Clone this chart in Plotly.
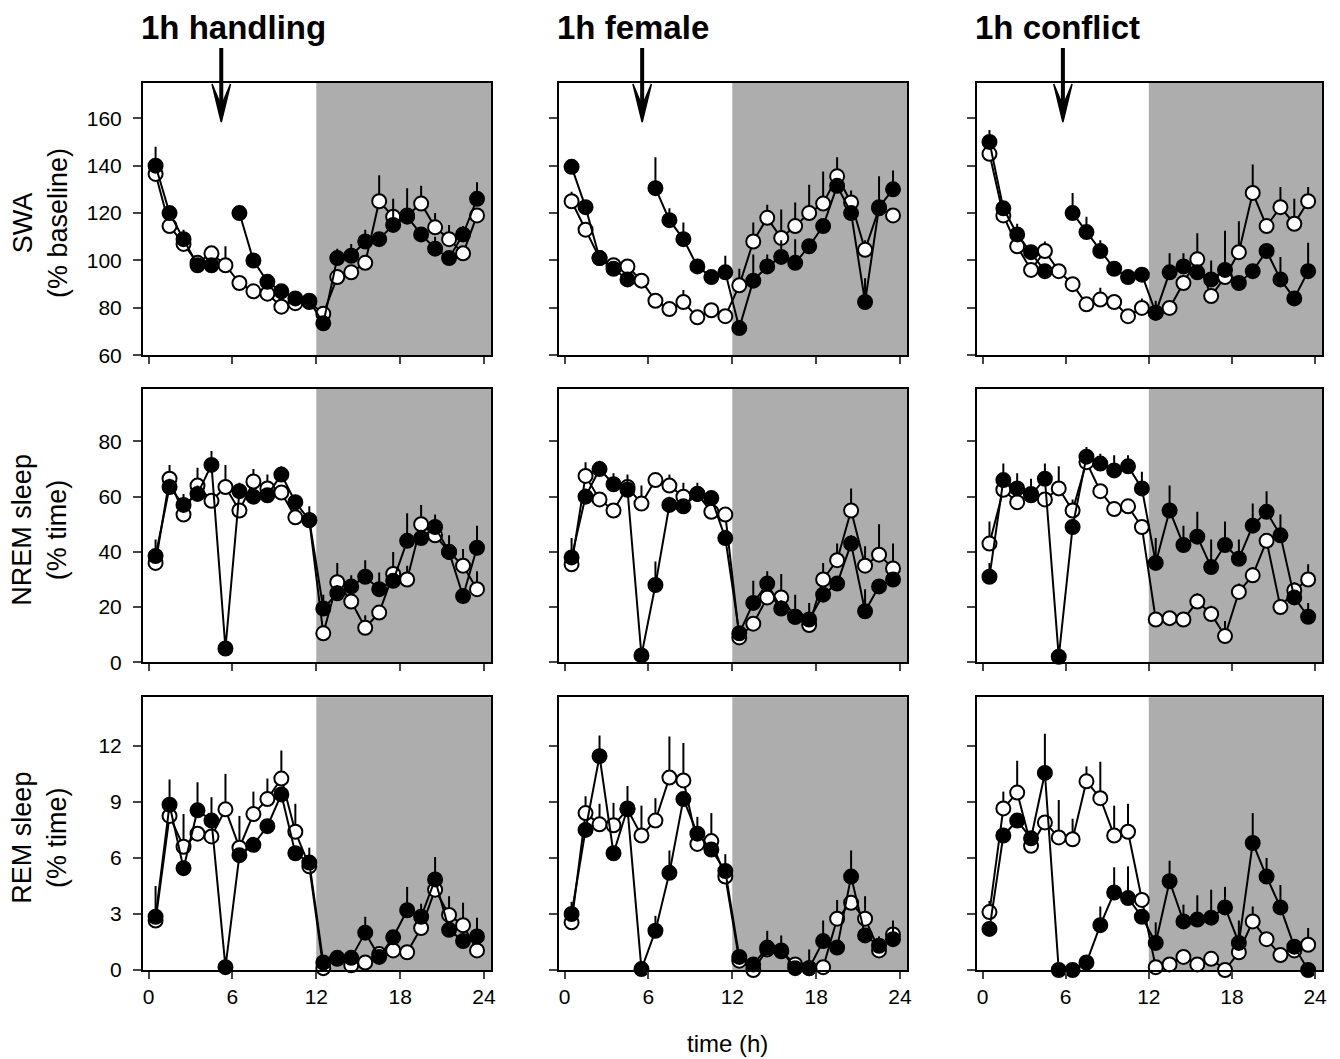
import plotly.graph_objects as go

# ---------------- data ----------------
hours = [h + 0.5 for h in range(24)]
conditions = ["1h handling", "1h female", "1h conflict"]
x_ticks = [0, 6, 12, 18, 24]
arrow_x = [5.2, 5.55, 5.8]

# SWA (% baseline): filled = experimental day, open = control
swa_hand_filled = [140, 120, 109, 98, 98, None, 120, 100, 91, 87, 84, 83, 73.5, 101, 102, 108, 109, 115, 118.5, 111, 105, 101, 111, 126]
swa_hand_filled_err = [8, 2, 4, 3, 1, 0, 0, 2, 2, 2, 1, 1, 1, 4, 5, 5, 3, 11, 12, 2, 5, 2, 3.5, 7]
swa_hand_open = [136.5, 114.5, 107, 99, 103, 98, 90.5, 87, 86, 80.5, 82, 82.5, 77.5, 93, 95, 99, 125, 118.5, 119, 124, 114, 109, 103, 119]
swa_hand_open_err = [2, 1, 1, 1, 1, 8, 1, 1, 1, 1, 1, 1, 1, 2, 1, 2, 11, 2, 2, 7.5, 6, 6, 2, 3]

swa_fem_filled = [139.5, 122.5, 101, 96.5, 92, None, 130.5, 117, 109, 97.5, 93, 95, 71.5, 91.5, 97.5, 101.5, 99, 106, 114.5, 131.5, 120, 82.5, 122.5, 130]
swa_fem_filled_err = [2, 2, 1, 1, 1, 0, 13, 5, 7, 3, 2, 7, 2, 11, 5, 7, 10, 3, 3, 2, 2, 10, 13, 8]
swa_fem_open = [125, 113, 101, 98, 97.5, 91.5, 83, 79.5, 82.5, 76, 79, 76.5, 89.5, 108, 118, 109.5, 114.5, 120, 124, 135.5, 124.5, 104.5, 122, 119]
swa_fem_open_err = [4, 2, 1, 2, 2, 1, 1, 1, 5, 1, 1, 1, 7, 8, 5.5, 12, 10, 12, 13.5, 8, 5, 4, 3, 3]

swa_conf_filled = [150, 122, 111, 103.5, 95.5, None, 120, 112, 104, 96.5, 93, 94, 78, 95, 97.5, 95, 92, 96, 90.5, 95.5, 104, 92, 84, 95.5]
swa_conf_filled_err = [5, 2, 4.5, 2, 1, 0, 8.5, 6.5, 4.5, 2, 2, 2, 2, 8, 5.5, 2, 8, 16.5, 3, 3, 3, 9.5, 2, 12]
swa_conf_open = [145, 119, 106, 96, 104, 95.5, 90, 81.5, 83.5, 82.5, 76.5, 80, 78, 80, 90.5, 100.5, 85, 93, 103.5, 128.5, 114.5, 122.5, 115.5, 125]
swa_conf_open_err = [2, 1, 1, 1, 4, 1, 1, 1, 5, 3, 1, 4, 5, 1, 2, 11, 2, 2, 13, 12, 2, 8.5, 10.5, 6]

# NREM sleep (% time)
nrem_hand_filled = [38.5, 63.5, 57, 61, 71.5, 5, 62, 60, 60.5, 68, 58, 51.5, 19.5, 25, 27.5, 31, 26.5, 29.5, 44, 45, 49, 40, 24, 41.5]
nrem_hand_filled_err = [6, 3, 4, 3, 5, 0, 3, 2, 2, 3, 2, 5, 5, 3, 4, 6, 6, 2, 10, 3, 4.5, 6, 2, 8]
nrem_hand_open = [36, 66.5, 53.5, 64, 58.5, 63.5, 55, 65.5, 63, 61.5, 52.5, 51.5, 10.5, 29, 22, 12.5, 18, 32, 30, 50, 46, 40, 35, 26.5]
nrem_hand_open_err = [2, 5, 2, 6.5, 2, 8, 2, 4.5, 5, 2, 2, 2, 2, 7, 2, 4.5, 2, 8, 5, 7, 2, 2, 6, 6.5]

nrem_fem_filled = [38, 60, 70, 64.5, 62.5, 2.5, 28, 57, 56.5, 61, 59.5, 45, 10.5, 21.5, 28.5, 19.5, 16.5, 15.5, 24.5, 28.5, 43, 18.5, 27.5, 30]
nrem_fem_filled_err = [7, 3, 3, 4, 5.5, 0, 8.5, 3, 2, 4, 2, 3, 2, 8, 4.5, 3, 8, 6, 2, 2, 3, 8, 2, 2]
nrem_fem_open = [35.5, 67.5, 59, 55, 63.5, 57.5, 66, 64, 60, 61, 54.5, 53.5, 9, 14, 23.5, 23.5, 16.5, 13.5, 30, 37, 55, 35, 39, 34]
nrem_fem_open_err = [2, 5, 2, 2, 2, 6.5, 2, 4, 5, 2, 2, 2, 2, 2, 2, 8.5, 2, 2, 6, 6, 8, 7, 11, 9]

nrem_conf_filled = [31, 66, 63, 60.5, 66.5, 2, 49, 74.5, 72, 69.5, 71, 63, 36, 55, 42.5, 45.5, 34.5, 42.5, 37.5, 49.5, 54.5, 46, 23.5, 16.5]
nrem_conf_filled_err = [5, 6, 5.5, 6, 5.5, 0, 3, 3.5, 3.5, 5.5, 4, 6, 9, 9, 7, 9, 10, 8.5, 7, 8, 7.5, 7.5, 2, 5]
nrem_conf_open = [43, 62.5, 58, 61, 59, 63, 55, 72.5, 62, 55.5, 56.5, 49, 15.5, 16, 15.5, 22, 17.5, 9.5, 25.5, 31.5, 44, 20, 26, 30]
nrem_conf_open_err = [8, 2, 2, 2, 2, 8, 4, 2, 2, 2, 2, 2, 2, 2, 2, 3, 3, 5.5, 3, 3, 2, 2, 3, 5.5]

# REM sleep (% time)
rem_hand_filled = [2.85, 8.85, 5.45, 8.55, 8.0, 0.15, 6.15, 6.7, 7.7, 9.4, 6.25, 5.75, 0.4, 0.65, 0.65, 2.0, 0.7, 1.75, 3.2, 2.85, 4.85, 2.15, 1.55, 1.8]
rem_hand_filled_err = [1.65, 1.35, 0.3, 1.5, 1.25, 0, 0.3, 0.3, 0.3, 0.3, 0.3, 0.8, 0.2, 0.2, 0.2, 0.85, 0.2, 0.3, 1.25, 0.3, 1.2, 0.3, 0.3, 1.0]
rem_hand_open = [2.65, 8.25, 6.6, 7.3, 7.15, 8.6, 6.55, 8.35, 9.15, 10.25, 7.4, 5.55, 0.1, 0.6, 0.25, 0.4, 0.85, 1.05, 0.95, 2.25, 4.3, 2.95, 2.4, 1.05]
rem_hand_open_err = [0.3, 0.3, 1.75, 0.3, 0.3, 1.9, 1.7, 1.2, 1.1, 1.5, 1.5, 0.3, 0.2, 0.2, 0.2, 0.2, 0.2, 0.2, 0.2, 1.3, 0.3, 1.0, 1.2, 0.3]

rem_fem_filled = [3.0, 7.5, 11.45, 6.25, 8.65, 0.05, 2.1, 5.2, 9.15, 7.3, 6.45, 5.3, 0.7, 0.3, 1.2, 1.05, 0.1, 0.1, 1.55, 1.2, 5.0, 1.85, 1.3, 1.65]
rem_fem_filled_err = [0.65, 0.3, 1.1, 0.3, 1.2, 0, 0.8, 1.2, 0.3, 0.9, 0.3, 0.9, 0.3, 0.2, 0.9, 0.8, 0.2, 1.0, 1.1, 0.3, 1.4, 0.3, 0.5, 1.0]
rem_fem_open = [2.55, 8.4, 7.8, 7.75, 8.6, 7.2, 8.0, 10.3, 10.15, 6.75, 6.9, 5.0, 0.5, 0.0, 1.1, 1.0, 0.3, 0.1, 0.15, 2.75, 3.6, 2.75, 1.05, 1.9]
rem_fem_open_err = [0.3, 0.9, 1.1, 1.2, 0.3, 1.6, 1.2, 2.2, 2.0, 0.3, 1.5, 0.3, 0.2, 0.2, 0.2, 0.2, 0.2, 0.2, 0.2, 1.0, 0.3, 1.2, 0.2, 0.3]

rem_conf_filled = [2.2, 7.2, 8.0, 7.05, 10.55, 0, 0, 0.4, 2.4, 4.15, 3.85, 2.85, 1.45, 4.75, 2.6, 2.7, 2.8, 3.35, 1.45, 6.8, 5.0, 3.35, 1.25, 0]
rem_conf_filled_err = [0.3, 0.3, 0.3, 0.3, 2.1, 0, 0, 0.2, 1.0, 1.35, 1.7, 0.3, 1.1, 1.1, 0.9, 1.3, 1.5, 1.1, 1.2, 1.6, 1.0, 1.2, 0.3, 0]
rem_conf_open = [3.1, 8.65, 9.5, 6.65, 7.9, 7.1, 7.0, 10.1, 9.2, 7.2, 7.4, 3.75, 0.15, 0.3, 0.7, 0.3, 0.6, 0.0, 0.95, 2.6, 1.65, 0.8, 1.05, 1.35]
rem_conf_open_err = [0.6, 0.9, 1.7, 0.2, 0.3, 2.0, 1.1, 0.8, 1.95, 1.6, 1.5, 0.3, 0.2, 0.2, 0.3, 0.2, 0.2, 0.2, 0.2, 0.8, 0.3, 0.3, 0.3, 0.9]

row_labels = ["SWA<br>(% baseline)", "NREM sleep<br>(% time)", "REM sleep<br>(% time)"]
row_ranges = [[60, 175], [0, 99], [0, 14.6]]
row_ticks = [[60, 80, 100, 120, 140, 160], [0, 20, 40, 60, 80], [0, 3, 6, 9, 12]]

panels = [
    [(swa_hand_open, swa_hand_open_err, swa_hand_filled, swa_hand_filled_err),
     (swa_fem_open, swa_fem_open_err, swa_fem_filled, swa_fem_filled_err),
     (swa_conf_open, swa_conf_open_err, swa_conf_filled, swa_conf_filled_err)],
    [(nrem_hand_open, nrem_hand_open_err, nrem_hand_filled, nrem_hand_filled_err),
     (nrem_fem_open, nrem_fem_open_err, nrem_fem_filled, nrem_fem_filled_err),
     (nrem_conf_open, nrem_conf_open_err, nrem_conf_filled, nrem_conf_filled_err)],
    [(rem_hand_open, rem_hand_open_err, rem_hand_filled, rem_hand_filled_err),
     (rem_fem_open, rem_fem_open_err, rem_fem_filled, rem_fem_filled_err),
     (rem_conf_open, rem_conf_open_err, rem_conf_filled, rem_conf_filled_err)],
]

# ---------------- layout geometry ----------------
W, H = 1340, 1059
col_px = [(143, 491), (559, 907), (977, 1322)]
row_px = [(82.7, 355.3), (389, 662.3), (697.3, 970)]
x_range = [-0.4, 24.5]
FONT = "Liberation Sans, Arial, Helvetica, sans-serif"

fig = go.Figure()
layout = dict(
    width=W, height=H, autosize=False,
    margin=dict(l=0, r=0, t=0, b=0, pad=0, autoexpand=False),
    paper_bgcolor="white", plot_bgcolor="white",
    showlegend=False,
    font=dict(family=FONT, color="black", size=21),
)
shapes = []
annotations = []

for r in range(3):
    for c in range(3):
        idx = r * 3 + c + 1
        xa = "xaxis" if idx == 1 else f"xaxis{idx}"
        ya = "yaxis" if idx == 1 else f"yaxis{idx}"
        xr = "x" if idx == 1 else f"x{idx}"
        yr = "y" if idx == 1 else f"y{idx}"
        x0p, x1p = col_px[c]
        y0p, y1p = row_px[r]
        layout[xa] = dict(
            domain=[x0p / W, x1p / W], range=x_range, anchor=yr,
            tickvals=x_ticks, ticks="outside", ticklen=7, tickwidth=2,
            showticklabels=(r == 2), tickfont=dict(size=21, family=FONT),
            showline=True, linewidth=2, linecolor="black", mirror=True,
            showgrid=False, zeroline=False, fixedrange=True, automargin=False,
        )
        layout[ya] = dict(
            domain=[1 - y1p / H, 1 - y0p / H], range=row_ranges[r], anchor=xr,
            tickvals=row_ticks[r], ticks="outside", ticklen=8, tickwidth=2,
            showticklabels=(c == 0), tickfont=dict(size=21, family=FONT),
            ticklabelstandoff=7,
            showline=True, linewidth=2, linecolor="black", mirror=True,
            showgrid=False, zeroline=False, fixedrange=True, automargin=False,
        )
        # dark period shading
        shapes.append(dict(type="rect", xref=xr, yref=f"{yr} domain",
                           x0=12, x1=x_range[1], y0=0, y1=1,
                           fillcolor="#adadad", line=dict(width=0), layer="below"))

        open_v, open_e, fill_v, fill_e = panels[r][c]
        for vals, errs, fillc in [(open_v, open_e, "white"), (fill_v, fill_e, "black")]:
            fig.add_trace(go.Scatter(
                x=hours, y=vals, xaxis=xr, yaxis=yr, mode="lines+markers",
                line=dict(color="black", width=2),
                marker=dict(size=14, color=fillc, line=dict(color="black", width=2)),
                error_y=dict(type="data", symmetric=False, array=errs,
                             arrayminus=[0] * len(errs), width=0, thickness=2,
                             color="black"),
                cliponaxis=False, hoverinfo="skip",
            ))

# column titles and arrows
tip_y = 1 - 122 / H
tail_y = 1 - 48 / H
notch_y = 1 - 106 / H
head_top = 1 - 84 / H
for c in range(3):
    xr = "x" if c == 0 else f"x{c + 1}"
    annotations.append(dict(text=f"<b>{conditions[c]}</b>", xref="paper", yref="paper",
                            x=(col_px[c][0] - 4) / W, y=1 - 28 / H, xanchor="left", yanchor="middle",
                            showarrow=False, font=dict(size=33, family=FONT, color="black")))
    ax = arrow_x[c]
    shapes.append(dict(type="line", xref=xr, yref="paper", x0=ax, x1=ax, y0=tail_y, y1=notch_y,
                       line=dict(color="black", width=4)))
    hw = 0.66
    shapes.append(dict(type="path", xref=xr, yref="paper",
                       path=f"M {ax - hw},{head_top} L {ax},{tip_y} L {ax + hw},{head_top} L {ax},{notch_y} Z",
                       fillcolor="black", line=dict(color="black", width=1.5)))

# row labels
for r in range(3):
    y0p, y1p = row_px[r]
    annotations.append(dict(text=row_labels[r], xref="paper", yref="paper",
                            x=40 / W, y=1 - ((y0p + y1p) / 2 + 4) / H,
                            xanchor="center", yanchor="middle", textangle=-90,
                            showarrow=False, font=dict(size=27, family=FONT, color="black")))

annotations.append(dict(text="time (h)", xref="paper", yref="paper",
                        x=727 / W, y=1 - 1043 / H, xanchor="center", yanchor="middle",
                        showarrow=False, font=dict(size=24, family=FONT, color="black")))

layout["shapes"] = shapes
layout["annotations"] = annotations
fig.update_layout(**layout)
fig.write_html("out.html", config={"responsive": False})
